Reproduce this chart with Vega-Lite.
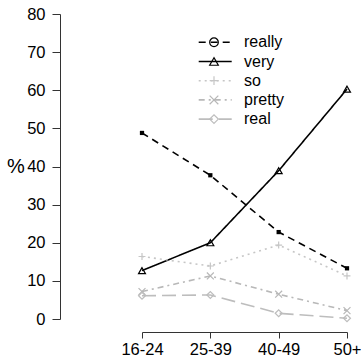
{
  "$schema": "https://vega.github.io/schema/vega-lite/v6.json",
  "width": 205,
  "height": 305,
  "autosize": {"type": "none"},
  "padding": {"left": 142, "top": 14, "right": 14, "bottom": 39},
  "config": {
    "view": {"stroke": null},
    "font": "Liberation Sans",
    "axis": {"grid": false, "domainColor": "#333333", "tickColor": "#333333", "labelColor": "#000000", "domainWidth": 1, "tickWidth": 1}
  },
  "data": {
    "values": [
      {"word": "really", "age": "16-24", "pct": 48.8},
      {"word": "really", "age": "25-39", "pct": 37.7},
      {"word": "really", "age": "40-49", "pct": 22.8},
      {"word": "really", "age": "50+", "pct": 13.3},
      {"word": "very", "age": "16-24", "pct": 12.7},
      {"word": "very", "age": "25-39", "pct": 20.0},
      {"word": "very", "age": "40-49", "pct": 38.9},
      {"word": "very", "age": "50+", "pct": 60.3},
      {"word": "so", "age": "16-24", "pct": 16.4},
      {"word": "so", "age": "25-39", "pct": 13.9},
      {"word": "so", "age": "40-49", "pct": 19.4},
      {"word": "so", "age": "50+", "pct": 11.3},
      {"word": "pretty", "age": "16-24", "pct": 7.2},
      {"word": "pretty", "age": "25-39", "pct": 11.3},
      {"word": "pretty", "age": "40-49", "pct": 6.5},
      {"word": "pretty", "age": "50+", "pct": 2.2},
      {"word": "real", "age": "16-24", "pct": 6.1},
      {"word": "real", "age": "25-39", "pct": 6.3},
      {"word": "real", "age": "40-49", "pct": 1.5},
      {"word": "real", "age": "50+", "pct": 0.2}
    ]
  },
  "encoding": {
    "x": {
      "field": "age", "type": "ordinal", "sort": ["16-24", "25-39", "40-49", "50+"],
      "scale": {"type": "point", "padding": 0},
      "axis": {"title": null, "labelAngle": 0, "offset": 13, "tickSize": 6, "labelFontSize": 16.5, "labelPadding": 3.5}
    },
    "y": {
      "field": "pct", "type": "quantitative",
      "scale": {"domain": [0, 80], "nice": false},
      "axis": {"title": "%", "titleAngle": 0, "titleX": -44.5, "titleY": 152.5, "titleAlign": "center", "titleBaseline": "middle", "titleFontSize": 20, "titleFontWeight": "normal", "offset": 82, "values": [0, 10, 20, 30, 40, 50, 60, 70, 80], "tickSize": 8, "labelPadding": 7, "labelFontSize": 16.5}
    }
  },
  "layer": [
    {
      "mark": {"type": "line", "strokeWidth": 1.6},
      "encoding": {
        "color": {
          "field": "word", "type": "nominal",
          "scale": {"domain": ["really", "very", "so", "pretty", "real"], "range": ["#000000", "#000000", "#c6c6c6", "#b8b8b8", "#bdbdbd"]},
          "legend": {"orient": "none", "legendX": 65.2, "legendY": 20.3, "title": null, "padding": 0, "symbolType": "M-3.3,0H3.3", "symbolSize": 100, "symbolStrokeWidth": 1.6, "labelFontSize": 16, "labelOffset": 20.8, "rowPadding": 3.2, "labelColor": "#000000"}
        },
        "strokeDash": {
          "field": "word", "type": "nominal",
          "scale": {"domain": ["really", "very", "so", "pretty", "real"], "range": [[7, 5], [1, 0], [2, 4], [6, 4, 2, 4], [14, 6]]},
          "legend": {"orient": "none", "legendX": 65.2, "legendY": 20.3, "title": null, "padding": 0, "symbolType": "M-3.3,0H3.3", "symbolSize": 100, "symbolStrokeWidth": 1.6, "labelFontSize": 16, "labelOffset": 20.8, "rowPadding": 3.2, "labelColor": "#000000"}
        }
      }
    },
    {
      "transform": [{"filter": "datum.word !== 'really'"}],
      "mark": {"type": "point", "filled": false, "strokeWidth": 1.2, "opacity": 1, "size": 48},
      "encoding": {
        "color": {
          "field": "word", "type": "nominal",
          "legend": {"orient": "none", "legendX": 64, "legendY": 20.3, "title": null, "padding": 0, "symbolSize": 75, "symbolStrokeWidth": 1.2, "labelFontSize": 16, "labelOffset": 12, "rowPadding": 3.2, "labelOpacity": 0}
        },
        "shape": {
          "field": "word", "type": "nominal",
          "scale": {"domain": ["really", "very", "so", "pretty", "real"], "range": ["circle", "triangle-up", "M-1,0H1M0,-1V1", "M-1,-1L1,1M-1,1L1,-1", "diamond"]},
          "legend": {"orient": "none", "legendX": 64, "legendY": 20.3, "title": null, "padding": 0, "symbolSize": 75, "symbolStrokeWidth": 1.2, "labelFontSize": 16, "labelOffset": 12, "rowPadding": 3.2, "labelOpacity": 0}
        }
      }
    },
    {
      "transform": [{"filter": "datum.word === 'really'"}],
      "mark": {"type": "point", "filled": true, "opacity": 1, "size": 18, "shape": "square"},
      "encoding": {
        "color": {"field": "word", "type": "nominal", "legend": null}
      }
    }
  ],
  "resolve": {"legend": {"color": "independent", "strokeDash": "independent", "shape": "independent"}}
}
